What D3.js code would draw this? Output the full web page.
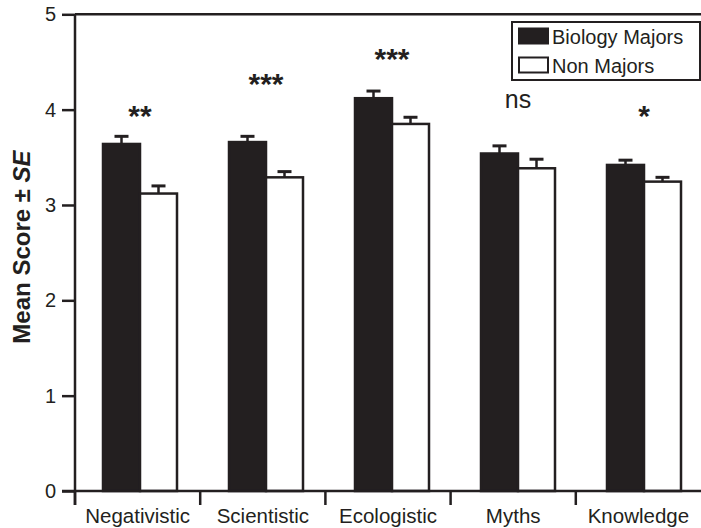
<!DOCTYPE html>
<html>
<head>
<meta charset="utf-8">
<script src="https://cdn.jsdelivr.net/npm/d3@7"></script>
<style>
  html, body { margin: 0; padding: 0; background: #fff; }
  svg { display: block; font-family: "Liberation Sans", Arial, Helvetica, sans-serif; }
</style>
</head>
<body>
<svg id="chart" width="701" height="528"></svg>
<script>
// Attitude scale categories
const categories = ["Negativistic", "Scientistic", "Ecologistic", "Myths", "Knowledge"];
const seriesNames = ["Biology Majors", "Non Majors"];

// Mean scores and standard errors
const biologyMeans = [3.64, 3.66, 4.12, 3.54, 3.42];
const biologySE    = [0.08, 0.06, 0.075, 0.08, 0.05];
const nonMajorMeans = [3.12, 3.29, 3.85, 3.385, 3.245];
const nonMajorSE    = [0.08, 0.06, 0.07, 0.095, 0.045];

// Significance of the difference between groups, with the height (in score units) of each mark
const significance = ["**", "***", "***", "ns", "*"];
const significanceLevel = [3.83, 4.16, 4.43, 4.02, 3.83];

const yTicks = [0, 1, 2, 3, 4, 5];

const ink = "#231f20";
const svg = d3.select("#chart");

const y = d3.scaleLinear().domain([0, 5]).range([491, 14.3]);
// Category slots used for axis separators and labels
const xAxisScale = d3.scaleBand().domain(categories).range([75, 701]);
// Category slots used for bar groups
const xBars = d3.scaleBand().domain(categories).range([77, 707]);
const groupWidth = 74;
const xSeries = d3.scaleBand().domain(seriesNames).range([0, groupWidth]);

const rows = categories.map((c, i) => ({
  category: c,
  values: [
    { series: seriesNames[0], mean: biologyMeans[i], se: biologySE[i] },
    { series: seriesNames[1], mean: nonMajorMeans[i], se: nonMajorSE[i] }
  ]
}));

const groupX = c => xBars(c) + (xBars.bandwidth() - groupWidth) / 2;
const fillFor = s => s === seriesNames[0] ? ink : "#fff";

// Bars
const groups = svg.append("g").selectAll("g").data(rows).join("g")
  .attr("transform", d => `translate(${groupX(d.category)},0)`);

// Error bars (upper only), drawn under the bar outlines
groups.selectAll("line.stem").data(d => d.values).join("line")
  .attr("class", "stem")
  .attr("x1", d => xSeries(d.series) + xSeries.bandwidth() / 2)
  .attr("x2", d => xSeries(d.series) + xSeries.bandwidth() / 2)
  .attr("y1", d => y(d.mean))
  .attr("y2", d => y(d.mean + d.se))
  .attr("stroke", ink).attr("stroke-width", 2.5);
groups.selectAll("line.cap").data(d => d.values).join("line")
  .attr("class", "cap")
  .attr("x1", d => xSeries(d.series) + xSeries.bandwidth() / 2 - 7)
  .attr("x2", d => xSeries(d.series) + xSeries.bandwidth() / 2 + 7)
  .attr("y1", d => y(d.mean + d.se))
  .attr("y2", d => y(d.mean + d.se))
  .attr("stroke", ink).attr("stroke-width", 3);

groups.selectAll("rect").data(d => d.values).join("rect")
  .attr("x", d => xSeries(d.series))
  .attr("width", xSeries.bandwidth())
  .attr("y", d => y(d.mean))
  .attr("height", d => y(0) - y(d.mean))
  .attr("fill", d => fillFor(d.series))
  .attr("stroke", ink)
  .attr("stroke-width", 2.5);

// Significance marks
svg.append("g").selectAll("text").data(categories).join("text")
  .attr("x", c => groupX(c) + groupWidth / 2)
  .attr("y", (c, i) => y(significanceLevel[i]))
  .attr("text-anchor", "middle")
  .attr("fill", ink)
  .attr("font-size", (c, i) => significance[i] === "ns" ? 25 : 30)
  .attr("font-weight", (c, i) => significance[i] === "ns" ? "normal" : "bold")
  .text((c, i) => significance[i]);

// Y axis
const yAxis = d3.axisLeft(y).tickValues(yTicks).tickSize(13).tickPadding(6).tickFormat(d3.format("d"));
const gy = svg.append("g").attr("transform", "translate(75,0)").call(yAxis);
gy.select(".domain").remove();
gy.selectAll(".tick line").attr("stroke", ink).attr("stroke-width", 2.5);
gy.selectAll(".tick text").attr("font-size", 20).attr("fill", ink)
  .attr("font-family", "Liberation Sans, Arial, sans-serif");

// X axis labels and category separators
const xAxis = d3.axisBottom(xAxisScale).tickSize(0).tickPadding(0);
const gx = svg.append("g").attr("transform", "translate(0,491)").call(xAxis);
gx.select(".domain").remove();
gx.selectAll(".tick text").attr("font-size", 20.5).attr("fill", ink)
  .attr("dy", null).attr("y", 32)
  .attr("font-family", "Liberation Sans, Arial, sans-serif");

svg.append("g").selectAll("line").data(categories).join("line")
  .attr("x1", c => xAxisScale(c)).attr("x2", c => xAxisScale(c))
  .attr("y1", y(0)).attr("y2", y(0) + 14)
  .attr("stroke", ink).attr("stroke-width", 2.5);

// Frame lines: left axis, top border and baseline
const frame = svg.append("g").attr("stroke", ink).attr("stroke-width", 2.5).attr("fill", "none");
frame.append("line").attr("x1", 75).attr("x2", 75).attr("y1", y(5)).attr("y2", y(0) + 14);
frame.append("line").attr("x1", 75).attr("x2", 701).attr("y1", y(5)).attr("y2", y(5));
frame.append("line").attr("x1", 62).attr("x2", 701).attr("y1", y(0)).attr("y2", y(0));

// Y axis title
const title = svg.append("text")
  .attr("transform", "translate(30,247) rotate(-90)")
  .attr("text-anchor", "middle")
  .attr("font-size", 24).attr("font-weight", "bold").attr("fill", ink);
title.append("tspan").text("Mean Score \u00b1 ");
title.append("tspan").attr("font-style", "italic").text("SE");

// Legend
const legend = svg.append("g");
legend.append("rect").attr("x", 512).attr("y", 22).attr("width", 188).attr("height", 58)
  .attr("fill", "#fff").attr("stroke", ink).attr("stroke-width", 2);
const items = legend.selectAll("g").data(seriesNames).join("g")
  .attr("transform", (d, i) => `translate(519,${28.5 + i * 29})`);
items.append("rect").attr("width", 29).attr("height", 15)
  .attr("fill", d => fillFor(d)).attr("stroke", ink).attr("stroke-width", 2);
items.append("text").attr("x", 33).attr("y", 15).attr("font-size", 20).attr("fill", ink).text(d => d);
</script>
</body>
</html>
